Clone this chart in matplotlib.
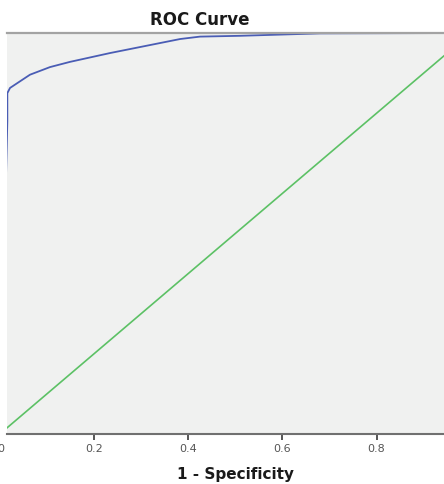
import matplotlib
matplotlib.use("Agg")
import matplotlib.pyplot as plt

# Data
fpr = [0.0, 0.016, 0.016, 0.0217, 0.0641, 0.1066, 0.149, 0.234, 0.383, 0.425, 0.510, 0.680, 1.0]
tpr = [0.0, 0.78, 0.850, 0.863, 0.896, 0.915, 0.928, 0.950, 0.985, 0.991, 0.993, 0.999, 1.0]
ref_x = [0.0, 1.0]
ref_y = [0.0, 1.0]
xticks = [0.2, 0.4, 0.6, 0.8]
xtick_labels = ["0.2", "0.4", "0.6", "0.8"]
title = "ROC Curve"
xlabel = "1 - Specificity"

plt.rcParams['font.family'] = ['DejaVu Sans']

W, H = 444, 484
fig = plt.figure(figsize=(W / 100, H / 100), dpi=100)

# pixel geometry: x value v -> px = -0.2 + 471 v ; y value -> py = 434 - 401 v
x0 = 0.0149
left_px = -0.2 + 471 * x0
right_px = -0.2 + 471 * 1.0
ax = fig.add_axes([left_px / W, (H - 434) / H, (right_px - left_px) / W, 401 / H])
ax.set_facecolor("#f0f1f0")
ax.set_xlim(x0, 1.0)
ax.set_ylim(0, 1.0)

ax.plot(ref_x, ref_y, color="#5cc165", lw=1.2, solid_capstyle="butt")
ax.plot(fpr, tpr, color="#4a5db5", lw=1.3, solid_joinstyle="round")

for s in ["left", "right"]:
    ax.spines[s].set_visible(False)
ax.spines["top"].set_color("#a3a3a3")
ax.spines["top"].set_linewidth(1.6)
ax.spines["bottom"].set_color("#707070")
ax.spines["bottom"].set_linewidth(1.5)

ax.set_yticks([])
ax.set_xticks(xticks)
ax.set_xticklabels(xtick_labels)
ax.tick_params(axis="x", direction="out", length=4.5, width=1.4, color="#555555",
               labelsize=8, labelcolor="#555555", pad=3)
# the "0" tick label sits partly outside the cropped view
ax.text(0.003, -(10 / 401), "0", transform=ax.get_xaxis_transform(), ha="center", va="top",
        fontsize=8, color="#555555", clip_on=False)

fig.text(235 / W, 1 - 475 / H, xlabel, ha="center", va="center",
         fontsize=11, fontweight="bold", color="#1a1a1a")
fig.text(200 / W, 1 - 20 / H, title, ha="center", va="center",
         fontsize=12, fontweight="bold", color="#1a1a1a")

fig.savefig("out.png", dpi=100)
